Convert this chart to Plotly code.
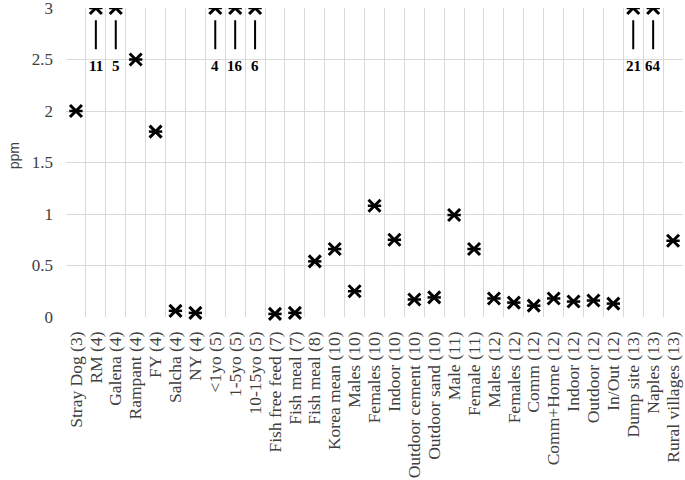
import plotly.graph_objects as go

categories = [
    "Stray Dog (3)", "RM (4)", "Galena (4)", "Rampant (4)", "FY (4)", "Salcha (4)", "NY (4)",
    "<1yo (5)", "1-5yo (5)", "10-15yo (5)", "Fish free feed (7)", "Fish meal (7)", "Fish meal (8)",
    "Korea mean (10)", "Males (10)", "Females (10)", "Indoor (10)", "Outdoor cement (10)",
    "Outdoor sand (10)", "Male (11)", "Female (11)", "Males (12)", "Females (12)", "Comm (12)",
    "Comm+Home (12)", "Indoor (12)", "Outdoor (12)", "In/Out (12)", "Dump site (13)",
    "Naples (13)", "Rural villages (13)",
]
values = [
    2.0, 11, 5, 2.5, 1.8, 0.06, 0.04,
    4, 16, 6, 0.03, 0.04, 0.54,
    0.66, 0.25, 1.08, 0.75, 0.17,
    0.19, 0.99, 0.66, 0.18, 0.14, 0.11,
    0.18, 0.15, 0.16, 0.13, 21,
    64, 0.74,
]
y_max = 3
y_ticks = [0, 0.5, 1, 1.5, 2, 2.5, 3]
y_tick_labels = ["0", "0.5", "1", "1.5", "2", "2.5", "3"]
y_title = "ppm"

idx = list(range(len(categories)))
in_x = [i for i, v in zip(idx, values) if v <= y_max]
in_y = [v for v in values if v <= y_max]
off_x = [i for i, v in zip(idx, values) if v > y_max]
off_v = [v for v in values if v > y_max]
off_y = [y_max for _ in off_v]

SERIF = "Liberation Serif, Times New Roman, serif"

fig = go.Figure()
for xs, ys, clip in ((in_x, in_y, False), (off_x, off_y, True)):
    fig.add_trace(go.Scatter(
        x=xs, y=ys, mode="markers", cliponaxis=clip, showlegend=False,
        marker=dict(symbol="x-thin-open", size=12, color="black",
                    line=dict(color="black", width=3)),
    ))
    fig.add_trace(go.Scatter(
        x=xs, y=ys, mode="markers", cliponaxis=clip, showlegend=False,
        marker=dict(symbol="line-ew-open", size=9.5, color="black",
                    line=dict(color="black", width=2.5)),
    ))

for c, v in zip(off_x, off_v):
    fig.add_annotation(
        x=c, y=y_max - 0.12, xref="x", yref="y",
        ax=c, ay=y_max - 0.56, axref="x", ayref="y",
        text="<b>%d</b>" % v, showarrow=True, arrowhead=0, arrowwidth=2,
        arrowcolor="black", startstandoff=7,
        font=dict(family=SERIF, size=15, color="black"),
    )

# y-axis title
fig.add_annotation(
    x=0, y=0.52, xref="paper", yref="paper", xanchor="center", yanchor="middle",
    xshift=-52, textangle=-90, text=y_title, showarrow=False,
    font=dict(family="Liberation Sans, Arial, sans-serif", size=14, color="#404040"),
)

# vertical grid lines at category boundaries
bounds = [i - 0.5 for i in range(len(categories) + 1)]

fig.update_layout(
    width=685, height=480,
    margin=dict(l=66, r=2, t=8, b=163),
    paper_bgcolor="white", plot_bgcolor="white",
    font=dict(family=SERIF, size=17.5, color="#404040"),
    xaxis=dict(
        tickmode="array", tickvals=idx, ticktext=categories,
        ticks="", showgrid=False, showline=False, tickangle=-90,
        tickfont=dict(family=SERIF, size=17.5, color="#404040"),
        ticklabelstandoff=10, range=[-0.5, len(categories) - 0.5],
        automargin=False, zeroline=False, ticklabeloverflow="allow",
        minor=dict(tickmode="array", tickvals=bounds, showgrid=True,
                   gridcolor="#d9d9d9", gridwidth=1, ticks=""),
    ),
    yaxis=dict(
        range=[0, y_max], tickmode="array", tickvals=y_ticks, ticktext=y_tick_labels,
        showgrid=True, gridcolor="#d9d9d9", gridwidth=1, zeroline=False,
        showline=False, ticks="", ticklabeloverflow="allow",
        tickfont=dict(family=SERIF, size=17, color="#404040"),
        ticklabelstandoff=12, automargin=False,
    ),
)

fig.write_html("out.html", config={"displayModeBar": False},
               post_script="document.body.style.margin='0';")
